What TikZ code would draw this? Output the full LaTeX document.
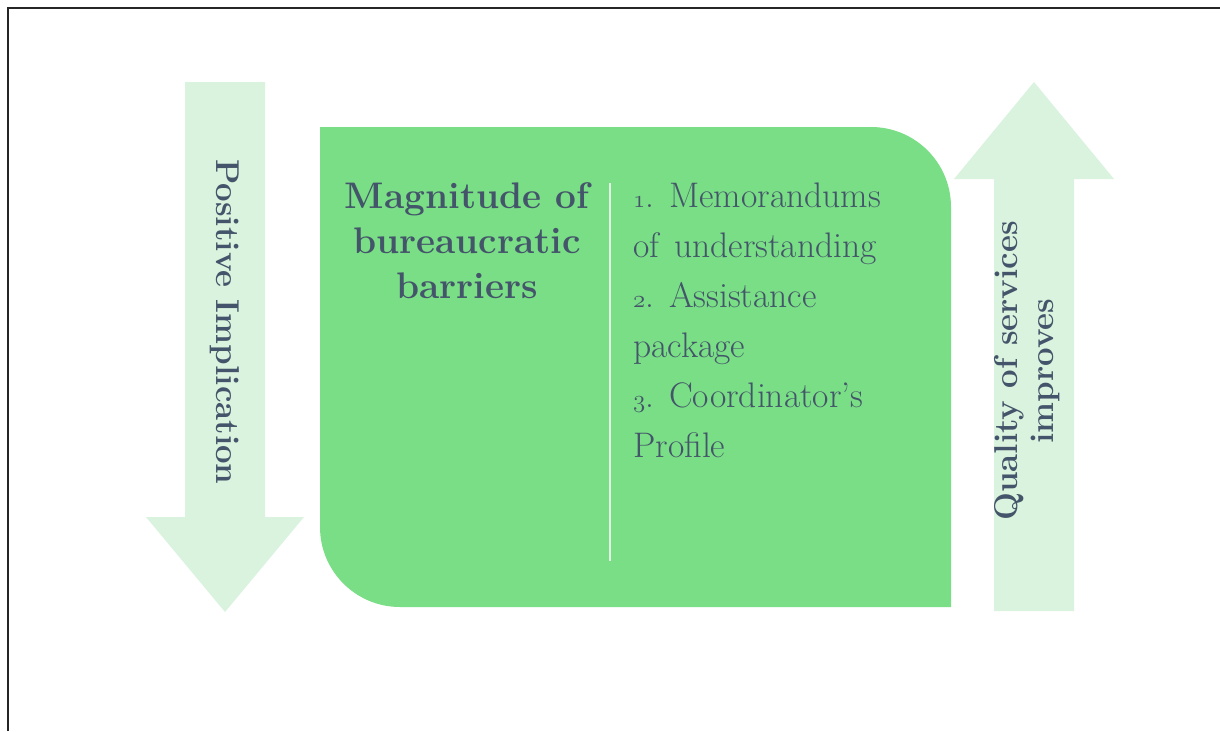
\documentclass[tikz,border=0pt]{standalone}
\usepackage{fontspec}
\definecolor{boxgreen}{RGB}{121,222,133}
\definecolor{palegreen}{RGB}{218,243,222}
\definecolor{inkblue}{RGB}{68,84,106}
\definecolor{divider}{RGB}{226,246,228}
% old-style figures taken from the math italic font
\newcommand\osfig[1]{{\usefont{OML}{cmm}{m}{it}#1}}
\newcommand\widespaces{\frenchspacing\spaceskip=0.42em plus 0.1em\relax}
\tikzset{
  arrowshape/.style={fill=palegreen, draw=none},
  boldlabel/.style={text=inkblue, inner sep=0pt, font=\bfseries},
  listlabel/.style={text=inkblue, inner sep=0pt, align=left},
}
\begin{document}
\begin{tikzpicture}[x=1pt, y=-1pt]
  \useasboundingbox (0,0) rectangle (1220,731);
  \fill[white] (0,0) rectangle (1220,731);
  % frame edges
  \draw[line width=2pt, black!85] (8,731) -- (8,8) -- (1220,8);

  % downward arrow on the left
  \fill[arrowshape] (185,82) -- (265,82) -- (265,517) -- (304,517)
      -- (225,612) -- (146,517) -- (185,517) -- cycle;
  % upward arrow on the right
  \fill[arrowshape] (994,611) -- (1074,611) -- (1074,179) -- (1114,179)
      -- (1034,82) -- (954,179) -- (994,179) -- cycle;

  % central panel with two rounded corners
  \fill[boxgreen] (320,127) -- (871,127) arc(-90:0:80) -- (951,607)
      -- (400,607) arc(90:180:80) -- cycle;
  \coordinate (divtop) at (610,183);
  \coordinate (divbot) at (610,561);
  \draw[divider, line width=1.5pt] (divtop) -- (divbot);

  \node[boldlabel, align=center, anchor=north,
        font=\fontsize{37}{45}\selectfont\bfseries] (title) at (467,182)
    {Magnitude of\\bureaucratic\\barriers};

  \node[listlabel, anchor=north west,
        font=\fontsize{35.5}{50}\selectfont\widespaces] (items) at (633,183)
    {\osfig{1}. Memorandums\\of understanding\\\osfig{2}. Assistance\\package\\\osfig{3}. Coordinator’s\\Profile};

  \node[boldlabel, rotate=-90, font=\fontsize{33}{37}\selectfont\bfseries]
    (positive) at (225,322) {Positive Implication};

  \node[boldlabel, rotate=90, align=center,
        font=\fontsize{33}{36}\selectfont\bfseries]
    (quality) at (1027,371) {Quality of services\\improves};
\end{tikzpicture}
\end{document}
